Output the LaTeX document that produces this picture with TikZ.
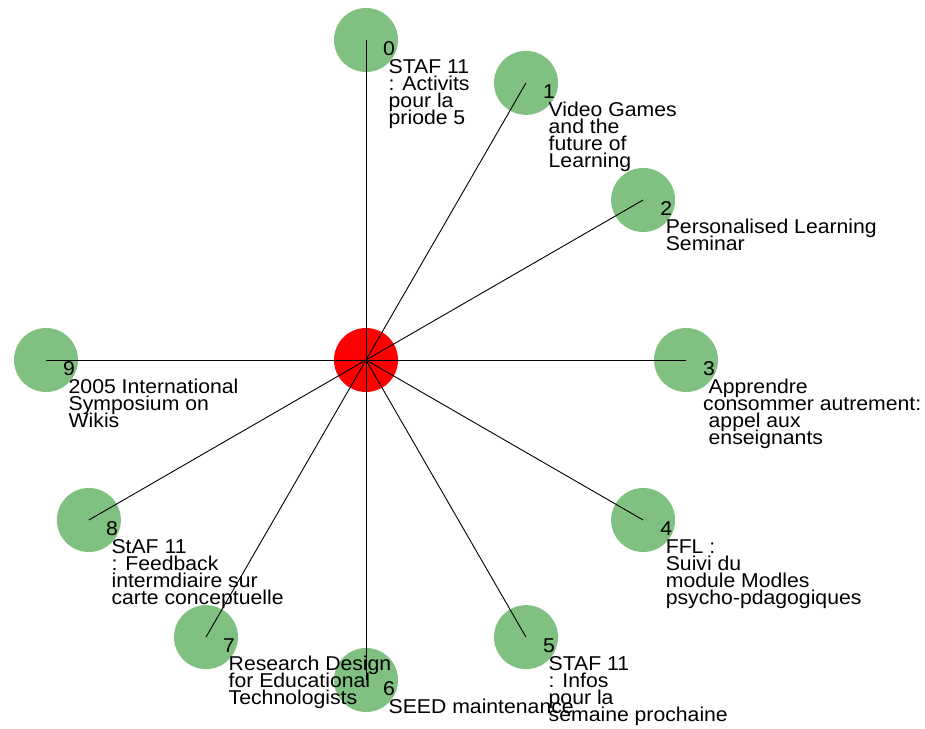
\documentclass[tikz,border=0pt]{standalone}
\usepackage{fontspec}
\setmainfont{Liberation Sans}[FakeStretch=1.06]
\definecolor{leafgreen}{RGB}{128,192,128}
% multi-line label, baseline at the first line
\newcommand{\lbllines}[1]{\vtop{\baselineskip=17pt\lineskiplimit=-\maxdimen\lineskip=0pt
  \let\\\cr\halign{##\hfil\cr#1\crcr}}}

\begin{document}
\begin{tikzpicture}[
    x=1pt,y=1pt,
    hub/.style={circle,fill=red,draw=none,minimum size=64pt,inner sep=0pt},
    leaf/.style={circle,fill=leafgreen,draw=none,minimum size=64pt,inner sep=0pt},
    link/.style={draw=black,line width=0.9pt},
    num/.style={anchor=base west,inner sep=0pt,font=\fontsize{20}{17}\selectfont},
    lbl/.style={anchor=base west,inner sep=0pt,font=\fontsize{20}{17}\selectfont}
  ]
    \useasboundingbox (0,0) rectangle (925,728);
    \node[hub] (c) at (366,368) {};
    \foreach \i in {0,...,9}
      \node[leaf] (n\i) at ([shift={(90-30*\i:320pt)}]c.center) {};
    \foreach \i in {0,...,9}
      \draw[link] (c.center) -- (n\i.center);
    \foreach \i/\t in {0/{STAF 11\\: Activits\\pour la\\priode 5},
        1/{Video Games\\and the\\future of\\Learning},
        2/{Personalised Learning\\Seminar},
        3/{Apprendre\\\hspace*{-5.5pt}consommer autrement:\\appel aux\\enseignants},
        4/{FFL :\\Suivi du\\module Modles\\psycho-pdagogiques},
        5/{STAF 11\\: Infos\\pour la\\semaine prochaine},
        6/{SEED maintenance},
        7/{Research Design\\for Educational\\Technologists},
        8/{StAF 11\\: Feedback\\intermdiaire sur\\carte conceptuelle},
        9/{2005 International\\Symposium on\\Wikis}}{
      \node[num] (k\i) at ([shift={(17,-15.5)}]n\i.center) {\i};
      \node[lbl] (t\i) at ([shift={(22.5,-33.5)}]n\i.center) {\lbllines{\t}};
    }
  \end{tikzpicture}
\end{document}
